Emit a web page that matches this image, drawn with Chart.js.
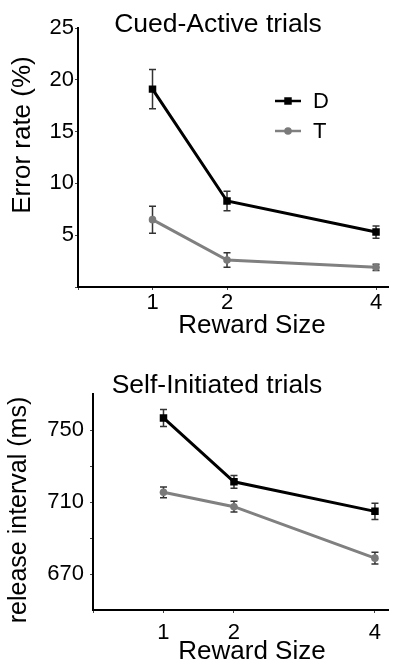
<!DOCTYPE html>
<html>
<head>
<meta charset="utf-8">
<script src="https://cdn.jsdelivr.net/npm/chart.js@4.4.0/dist/chart.umd.min.js"></script>
<style>
    body { margin: 0; background: #fff; }
    .wrap { position: absolute; left: 0; width: 394px; }
</style>
</head>
<body>
<div class="wrap" style="top:0;height:340px"><canvas id="cuedChart"></canvas></div>
<div class="wrap" style="top:340px;height:325px"><canvas id="selfChart"></canvas></div>
<script>
// Reward sizes on the x axis
const rewardSizes = [1, 2, 4];
const xTicks = [0, 1, 2, 4];

// Cued-Active trials: error rate (%)
const cuedD = [19.1, 8.3, 5.3];
const cuedDErr = [1.9, 0.95, 0.6];
const cuedT = [6.5, 2.6, 1.9];
const cuedTErr = [1.3, 0.7, 0.3];
const cuedYTicks = [0, 5, 10, 15, 20, 25];

// Self-Initiated trials: release interval (ms)
const selfD = [756.7, 721.2, 704.8];
const selfDErr = [4.7, 3.5, 4.5];
const selfT = [715.4, 707.4, 678.8];
const selfTErr = [3, 3, 3.3];
const selfYTicks = [670, 690, 710, 730, 750];
const selfYLabels = [670, 710, 750];

const FONT = "'Liberation Sans', Arial, Helvetica, sans-serif";
const tickFont = { family: FONT, size: 22, lineHeight: 1 };

// Draw vertical error bars from each dataset's errors array
const errorBarPlugin = {
    id: 'errorBars',
    beforeDatasetsDraw(chart) {
        const ctx = chart.ctx;
        const xs = chart.scales.x, ys = chart.scales.y;
        ctx.save();
        ctx.strokeStyle = '#333';
        ctx.lineWidth = 1.5;
        chart.data.datasets.forEach(ds => {
            ds.data.forEach((p, i) => {
                const e = ds.errors[i];
                const x = xs.getPixelForValue(p.x);
                const y1 = ys.getPixelForValue(p.y + e);
                const y2 = ys.getPixelForValue(p.y - e);
                ctx.beginPath();
                ctx.moveTo(x, y1); ctx.lineTo(x, y2);
                ctx.moveTo(x - 3.5, y1); ctx.lineTo(x + 3.5, y1);
                ctx.moveTo(x - 3.5, y2); ctx.lineTo(x + 3.5, y2);
                ctx.stroke();
            });
        });
        ctx.restore();
    }
};

// Free text: panel titles and axis titles
const textPlugin = {
    id: 'texts',
    afterDraw(chart, args, opts) {
        const ctx = chart.ctx;
        (opts.items || []).forEach(it => {
            ctx.save();
            ctx.font = it.size + 'px ' + FONT;
            ctx.fillStyle = '#000';
            ctx.textAlign = 'center';
            ctx.textBaseline = 'middle';
            ctx.translate(it.x, it.y);
            if (it.rotate) ctx.rotate(-Math.PI / 2);
            ctx.fillText(it.text, 0, 0);
            ctx.restore();
        });
    }
};

// Small legend inside the plot
const legendPlugin = {
    id: 'innerLegend',
    afterDraw(chart, args, opts) {
        if (!opts.show) return;
        const ctx = chart.ctx;
        chart.data.datasets.forEach((ds, i) => {
            const y = opts.y + i * opts.gap;
            ctx.save();
            ctx.strokeStyle = ds.borderColor;
            ctx.lineWidth = 2.5;
            ctx.beginPath();
            ctx.moveTo(opts.x, y); ctx.lineTo(opts.x + 26, y);
            ctx.stroke();
            ctx.fillStyle = ds.pointBackgroundColor;
            ctx.strokeStyle = ds.pointBackgroundColor;
            Chart.helpers.drawPoint(ctx, { pointStyle: ds.pointStyle, radius: ds.pointRadius, rotation: 0, borderWidth: 0 }, opts.x + 13, y);
            ctx.font = '22px ' + FONT;
            ctx.fillStyle = '#000';
            ctx.textAlign = 'left';
            ctx.textBaseline = 'middle';
            ctx.fillText(ds.label, opts.x + 38, y + 1);
            ctx.restore();
        });
    }
};

function toPoints(values) {
    return rewardSizes.map((r, i) => ({ x: r, y: values[i] }));
}

function makeDatasets(dVals, dErr, tVals, tErr) {
    return [
        {
            label: 'D', data: toPoints(dVals), errors: dErr,
            borderColor: '#000', borderWidth: 3,
            pointStyle: 'rect', pointRadius: 5.3, pointBorderWidth: 0,
            pointBackgroundColor: '#000'
        },
        {
            label: 'T', data: toPoints(tVals), errors: tErr,
            borderColor: '#808080', borderWidth: 3,
            pointStyle: 'circle', pointRadius: 3.8, pointBorderWidth: 0,
            pointBackgroundColor: '#7a7a7a'
        }
    ];
}

function makeChart(id, cfg) {
    const ctx = document.getElementById(id).getContext('2d');
    return new Chart(ctx, {
        type: 'line',
        data: { datasets: cfg.datasets },
        plugins: [errorBarPlugin, textPlugin, legendPlugin],
        options: {
            responsive: true,
            maintainAspectRatio: false,
            animation: false,
            layout: { padding: { top: cfg.top, left: 0, right: 0, bottom: 0 } },
            scales: {
                x: {
                    type: 'linear', min: 0, max: cfg.xMax,
                    afterBuildTicks: s => { s.ticks = xTicks.map(v => ({ value: v })); },
                    afterFit: s => { s.height = cfg.xHeight; },
                    ticks: {
                        font: tickFont, color: '#000', padding: cfg.xPad,
                        maxRotation: 0, autoSkip: false,
                        callback: v => v === 0 ? '' : String(v)
                    },
                    grid: { drawOnChartArea: false, tickLength: 3, tickColor: '#444', lineWidth: 1 },
                    border: { color: '#000', width: 2 }
                },
                y: {
                    type: 'linear', min: cfg.yMin, max: cfg.yMax,
                    afterBuildTicks: s => { s.ticks = cfg.yTicks.map(v => ({ value: v })); },
                    afterFit: s => { s.width = cfg.yWidth; },
                    ticks: {
                        font: tickFont, color: '#000', padding: cfg.yPad,
                        autoSkip: false,
                        callback: cfg.yLabel
                    },
                    grid: { drawOnChartArea: false, tickLength: 3, tickColor: '#444', lineWidth: 1 },
                    border: { color: '#000', width: 2 }
                }
            },
            plugins: {
                legend: { display: false },
                tooltip: { enabled: false },
                texts: { items: cfg.texts },
                innerLegend: cfg.legend
            }
        }
    });
}

document.addEventListener('DOMContentLoaded', function() {
    makeChart('cuedChart', {
        datasets: makeDatasets(cuedD, cuedDErr, cuedT, cuedTErr),
        top: 28, xMax: 4.17, xHeight: 53, xPad: 2,
        yMin: 0, yMax: 25, yTicks: cuedYTicks, yWidth: 78, yPad: 1,
        yLabel: v => v === 0 ? '' : String(v),
        texts: [
            { text: 'Cued-Active trials', x: 218, y: 25, size: 26.5 },
            { text: 'Error rate (%)', x: 23, y: 135, size: 26 },
            { text: 'Reward Size', x: 252, y: 326, size: 26 }
        ].map((t, i) => i === 1 ? Object.assign(t, { rotate: true }) : t),
        legend: { show: true, x: 275, y: 101, gap: 30 }
    });

    makeChart('selfChart', {
        datasets: makeDatasets(selfD, selfDErr, selfT, selfTErr),
        top: 54, xMax: 4.195, xHeight: 55, xPad: 9,
        yMin: 650, yMax: 770, yTicks: selfYTicks, yWidth: 93, yPad: 6,
        yLabel: v => selfYLabels.includes(v) ? String(v) : '',
        texts: [
            { text: 'Self-Initiated trials', x: 217, y: 46, size: 26.5 },
            { text: 'release interval (ms)', x: 19, y: 170, size: 25, rotate: true },
            { text: 'Reward Size', x: 252, y: 312, size: 26 }
        ],
        legend: { show: false }
    });
});
</script>
</body>
</html>
